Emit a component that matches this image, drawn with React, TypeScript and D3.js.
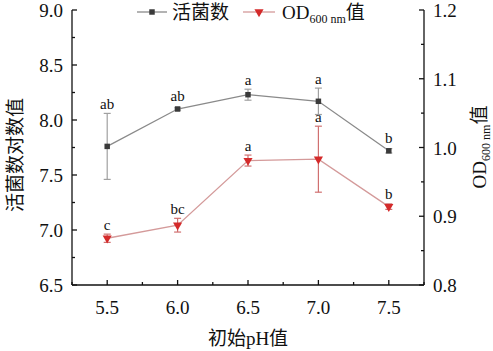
import React, { useRef, useEffect } from "react";
import * as d3 from "d3";

// 初始pH值
const phValues = [5.5, 6.0, 6.5, 7.0, 7.5];
// 活菌数 (log)
const viableCount = [7.76, 8.1, 8.23, 8.17, 7.72];
const viableErr = [0.3, 0.01, 0.05, 0.12, 0.02];
const viableLetters = ["ab", "ab", "a", "a", "b"];
// OD600 nm
const od600 = [0.868, 0.887, 0.981, 0.983, 0.914];
const odErr = [0.006, 0.01, 0.008, 0.048, 0.004];
const odLetters = ["c", "bc", "a", "a", "b"];

const xTicks = [5.5, 6.0, 6.5, 7.0, 7.5];
const leftTicks = [6.5, 7.0, 7.5, 8.0, 8.5, 9.0];
const rightTicks = [0.8, 0.9, 1.0, 1.1, 1.2];

const FONT = "'Liberation Serif', 'Times New Roman', 'Noto Sans CJK SC', serif";

export default function App() {
  const ref = useRef<SVGSVGElement | null>(null);

  useEffect(() => {
    const width = 493;
    const height = 351;
    const left = 72;
    const right = 424;
    const top = 10;
    const bottom = 285;

    const x = d3.scaleLinear().domain([5.25, 7.75]).range([left, right]);
    const yL = d3.scaleLinear().domain([6.5, 9.0]).range([bottom, top]);
    const yR = d3.scaleLinear().domain([0.8, 1.2]).range([bottom, top]);

    const svg = d3.select(ref.current).html("").attr("width", width).attr("height", height);

    const axisColor = "#111";
    // 坐标轴
    const axes = svg.append("g").attr("stroke", axisColor).attr("stroke-width", 1.3);
    axes.append("line").attr("x1", left).attr("x2", left).attr("y1", top).attr("y2", bottom);
    axes.append("line").attr("x1", right).attr("x2", right).attr("y1", top).attr("y2", bottom);
    axes.append("line").attr("x1", left).attr("x2", right).attr("y1", bottom).attr("y2", bottom);

    // x ticks (inward)
    const xMinor = d3.range(5.25, 7.76, 0.25);
    xMinor.forEach((v) => {
      const major = xTicks.some((t) => Math.abs(t - v) < 1e-6);
      axes.append("line")
        .attr("x1", x(v)).attr("x2", x(v))
        .attr("y1", bottom).attr("y2", bottom - (major ? 5 : 3));
    });
    svg.append("g").selectAll("text").data(xTicks).enter().append("text")
      .attr("x", (d) => x(d)).attr("y", 314)
      .attr("text-anchor", "middle")
      .attr("font-family", FONT).attr("font-size", 19).attr("fill", "#111")
      .text((d) => d.toFixed(1));

    // left ticks
    d3.range(6.5, 9.01, 0.25).forEach((v) => {
      const major = leftTicks.some((t) => Math.abs(t - v) < 1e-6);
      axes.append("line")
        .attr("x1", left).attr("x2", left + (major ? 5 : 3))
        .attr("y1", yL(v)).attr("y2", yL(v));
    });
    svg.append("g").selectAll("text").data(leftTicks).enter().append("text")
      .attr("x", 63).attr("y", (d) => yL(d) + 7)
      .attr("text-anchor", "end")
      .attr("font-family", FONT).attr("font-size", 19).attr("fill", "#111")
      .text((d) => d.toFixed(1));

    // right ticks
    d3.range(0.8, 1.201, 0.05).forEach((v) => {
      const major = rightTicks.some((t) => Math.abs(t - v) < 1e-6);
      axes.append("line")
        .attr("x1", right).attr("x2", right - (major ? 5 : 3))
        .attr("y1", yR(v)).attr("y2", yR(v));
    });
    svg.append("g").selectAll("text").data(rightTicks).enter().append("text")
      .attr("x", 433).attr("y", (d) => yR(d) + 7)
      .attr("text-anchor", "start")
      .attr("font-family", FONT).attr("font-size", 19).attr("fill", "#111")
      .text((d) => d.toFixed(1));

    // 轴标题
    svg.append("text")
      .attr("x", x(6.5)).attr("y", 345)
      .attr("text-anchor", "middle")
      .attr("font-family", FONT).attr("font-size", 19).attr("fill", "#111")
      .text("初始pH值");

    svg.append("text")
      .attr("transform", "translate(22,155) rotate(-90)")
      .attr("text-anchor", "middle")
      .attr("font-family", FONT).attr("font-size", 19).attr("fill", "#111")
      .text("活菌数对数值");

    const rt = svg.append("text")
      .attr("transform", "translate(486,147) rotate(-90)")
      .attr("text-anchor", "middle")
      .attr("font-family", FONT).attr("font-size", 19).attr("fill", "#111");
    rt.append("tspan").text("OD");
    rt.append("tspan").attr("font-size", 12).attr("dy", 4).text("600 nm");
    rt.append("tspan").attr("dy", -4).text("值");

    // 系列
    const drawSeries = (
      vals: number[], errs: number[], letters: string[],
      y: d3.ScaleLinear<number, number>, lineColor: string, errColor: string,
      markColor: string, shape: "square" | "tri"
    ) => {
      const g = svg.append("g");
      const line = d3.line<number>().x((d, i) => x(phValues[i])).y((d) => y(d));
      g.append("path").datum(vals)
        .attr("fill", "none").attr("stroke", lineColor).attr("stroke-width", 1.3)
        .attr("d", line);

      vals.forEach((v, i) => {
        const cx = x(phValues[i]);
        const y1 = y(v + errs[i]);
        const y2 = y(v - errs[i]);
        g.append("line").attr("x1", cx).attr("x2", cx).attr("y1", y1).attr("y2", y2)
          .attr("stroke", errColor).attr("stroke-width", 1.2);
        [y1, y2].forEach((yy) => {
          g.append("line").attr("x1", cx - 3.5).attr("x2", cx + 3.5).attr("y1", yy).attr("y2", yy)
            .attr("stroke", errColor).attr("stroke-width", 1.2);
        });
      });

      const sym = d3.symbol().type(shape === "square" ? d3.symbolSquare : d3.symbolTriangle).size(shape === "square" ? 30 : 36);
      g.selectAll(".mk").data(vals).enter().append("path")
        .attr("transform", (d, i) => `translate(${x(phValues[i])},${y(d)})${shape === "tri" ? " rotate(180)" : ""}`)
        .attr("d", sym)
        .attr("fill", markColor);

      g.selectAll(".lb").data(letters).enter().append("text")
        .attr("x", (d, i) => x(phValues[i]))
        .attr("y", (d, i) => Math.min(y(vals[i] + errs[i]), y(vals[i]) - 4) - 4)
        .attr("text-anchor", "middle")
        .attr("font-family", FONT).attr("font-size", 15).attr("fill", "#111")
        .text((d) => d);
    };

    drawSeries(viableCount, viableErr, viableLetters, yL, "#8a8a8a", "#a0a0a0", "#3a3a3a", "square");
    drawSeries(od600, odErr, odLetters, yR, "#d49a9a", "#d07070", "#d42a2a", "tri");

    // 图例
    const lg = svg.append("g");
    lg.append("line").attr("x1", 137).attr("x2", 167).attr("y1", 12).attr("y2", 12)
      .attr("stroke", "#8a8a8a").attr("stroke-width", 1.3);
    lg.append("path").attr("transform", "translate(152,12)")
      .attr("d", d3.symbol().type(d3.symbolSquare).size(30)).attr("fill", "#3a3a3a");
    lg.append("text").attr("x", 172).attr("y", 19)
      .attr("font-family", FONT).attr("font-size", 19).attr("fill", "#111")
      .text("活菌数");

    lg.append("line").attr("x1", 243).attr("x2", 275).attr("y1", 12).attr("y2", 12)
      .attr("stroke", "#d49a9a").attr("stroke-width", 1.3);
    lg.append("path").attr("transform", "translate(259,12) rotate(180)")
      .attr("d", d3.symbol().type(d3.symbolTriangle).size(36)).attr("fill", "#d42a2a");
    const lt = lg.append("text").attr("x", 282).attr("y", 19)
      .attr("font-family", FONT).attr("font-size", 19).attr("fill", "#111");
    lt.append("tspan").text("OD");
    lt.append("tspan").attr("font-size", 12).attr("dy", 4).text("600 nm");
    lt.append("tspan").attr("dy", -4).text("值");
  }, []);

  return (
    <svg
      ref={ref}
      style={{ position: "absolute", left: 0, top: 0, background: "#fff", display: "block" }}
    />
  );
}
